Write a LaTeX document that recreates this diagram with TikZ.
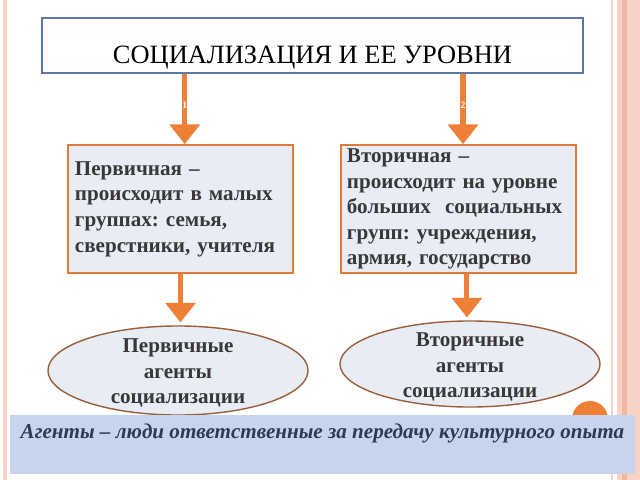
\documentclass[tikz,border=0pt]{standalone}
\usepackage{fontspec}
\setmainfont{Liberation Serif}
\usetikzlibrary{arrows.meta, shapes.geometric}
\frenchspacing

\definecolor{stripelight}{HTML}{F9D2C6}
\definecolor{stripedark}{HTML}{F2B7A2}
\definecolor{titleline}{HTML}{5B78A8}
\definecolor{boxfill}{HTML}{E8ECF5}
\definecolor{boxline}{HTML}{E07A35}
\definecolor{boxtext}{HTML}{383838}
\definecolor{arroworange}{HTML}{EE7F36}
\definecolor{ellipseline}{HTML}{9A5F3A}
\definecolor{barfill}{HTML}{C7D5EC}
\definecolor{bartext}{HTML}{2C3A52}

\begin{document}
\begin{tikzpicture}[x=0.025cm, y=-0.025cm,
  titlebox/.style={draw=titleline, line width=0.9pt, fill=white, minimum width=13.525cm,
    minimum height=1.375cm, inner ysep=0pt, text height=26.6pt, text depth=1pt,
    font=\fontsize{18.8}{21}\selectfont},
  levelbox/.style={draw=boxline, fill=boxfill, line width=1.2pt, minimum height=3.2cm,
    inner ysep=0pt, align=left, font=\fontsize{15}{18.2}\selectfont\bfseries, text=boxtext},
  agentsshape/.style={ellipse, draw=ellipseline, fill=boxfill, line width=1pt, minimum width=6.5cm},
  agentstext/.style={align=center, font=\fontsize{15}{18}\selectfont\bfseries, text=boxtext},
  levelarrow/.style={draw=arroworange, line width=3.6pt, -{Triangle[width=21pt,length=14pt]}},
  numtag/.style={text=white, font=\fontsize{7}{8}\selectfont\bfseries, inner sep=0pt},
  notebar/.style={fill=barfill, minimum width=15.625cm, minimum height=1.475cm, inner ysep=0pt,
    text height=11pt, text depth=20.2pt, text=bartext, font=\fontsize{15}{18}\selectfont\bfseries\itshape},
]
\useasboundingbox (0,0) rectangle (640,480);

% slide border
\fill[stripelight] (3,0) rectangle (7,480);
\fill[stripelight] (611,0) rectangle (613,480);
\fill[stripelight] (617,0) rectangle (640,480);
\fill[stripedark] (622,0) rectangle (627,480);

% title
\node[titlebox] (title) at (312.5,45.5) {СОЦИАЛИЗАЦИЯ И ЕЕ УРОВНИ};

% levels
\node[levelbox, minimum width=5.625cm, text width=5.275cm] (lvl1) at (180.5,209)
  {Первичная –\\происходит в малых\\группах: семья,\\сверстники, учителя};
\node[levelbox, minimum width=5.875cm, text width=5.575cm] (lvl2) at (458.5,209)
  {Вторичная –\\происходит на уровне\\больших\ \ социальных\\групп: учреждения,\\армия, государство};

% agents
\node[agentsshape, minimum height=2.225cm] (agents1) at (178,370.5) {};
\node[agentstext] (agents1text) at (178,373) {Первичные\\агенты\\социализации};
\node[agentsshape, minimum height=2.15cm] (agents2) at (470,364) {};
\node[agentstext] (agents2text) at (470,367) {Вторичные\\агенты\\социализации};

% arrows
\draw[levelarrow] ([xshift=3pt]title.south -| lvl1.north) -- ([xshift=3pt]lvl1.north)
  node[pos=0.45, numtag] {1};
\draw[levelarrow] ([xshift=3.2pt]title.south -| lvl2.north) -- ([xshift=3.2pt]lvl2.north)
  node[pos=0.45, numtag] {2};
\draw[levelarrow, shorten >=2pt] (lvl1.south) -- (lvl1.south |- agents1.north);
\draw[levelarrow, shorten >=2pt] ([xshift=6pt]lvl2.south) -- ([xshift=6pt]lvl2.south |- agents2.north);

% note
\fill[arroworange] (590,419) circle (0.45cm);
\node[notebar] (note) at (322.5,444.5) {Агенты – люди ответственные за передачу культурного опыта};

\end{tikzpicture}
\end{document}
